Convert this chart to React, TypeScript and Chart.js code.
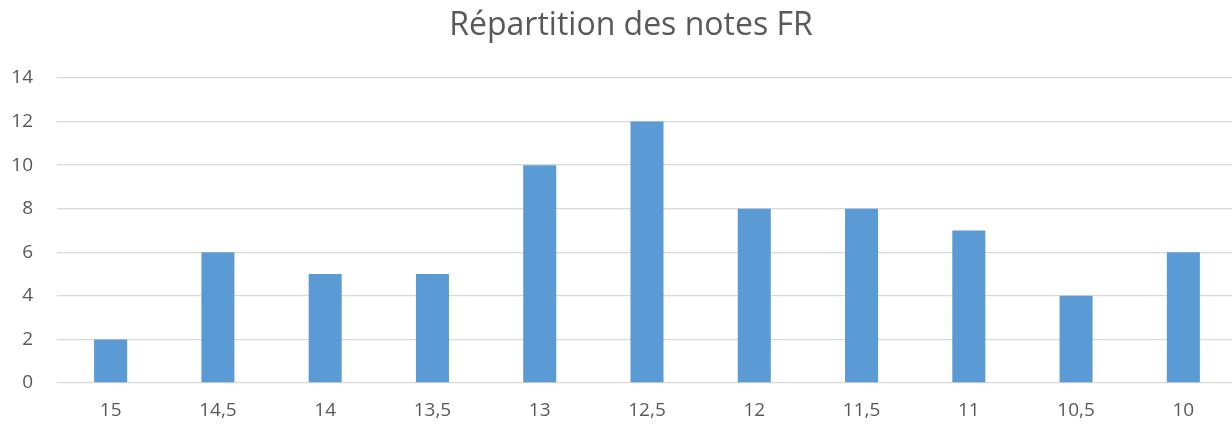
import React, { useEffect, useRef } from "react";
import { Chart, registerables } from "chart.js";

Chart.register(...registerables);

const categories = ["15", "14,5", "14", "13,5", "13", "12,5", "12", "11,5", "11", "10,5", "10"];
const counts = [2, 6, 5, 5, 10, 12, 8, 8, 7, 4, 6];
const yTicks = [0, 2, 4, 6, 8, 10, 12, 14];
const titleText = "Répartition des notes FR";

const FONT = "'Open Sans', sans-serif";
const TEXT = "#595959";

const titlePlugin = {
  id: "offsetTitle",
  afterDraw(chart: any) {
    const ctx = chart.ctx;
    ctx.save();
    ctx.fillStyle = TEXT;
    ctx.font = `normal 32px ${FONT}`;
    ctx.textAlign = "center";
    ctx.textBaseline = "middle";
    ctx.fillText(titleText, 631, 26);
    ctx.restore();
  },
};

export default function App() {
  const ref = useRef<HTMLCanvasElement | null>(null);
  useEffect(() => {
    document.body.style.margin = "0";
    if (!ref.current) return;
    const chart = new Chart(ref.current, {
      type: "bar",
      data: {
        labels: categories,
        datasets: [
          {
            label: "Notes",
            data: counts,
            backgroundColor: "#5B9BD5",
            borderWidth: 0,
            barPercentage: 1,
            categoryPercentage: 0.308,
          },
        ],
      },
      plugins: [titlePlugin],
      options: {
        animation: false,
        responsive: false,
        maintainAspectRatio: false,
        layout: { padding: { left: 0, right: 0, top: 78, bottom: 0 } },
        plugins: {
          legend: { display: false },
          tooltip: { enabled: false },
          title: { display: false },
        },
        scales: {
          x: {
            grid: { display: false, drawTicks: false },
            border: { display: false },
            ticks: {
              color: TEXT,
              font: { family: FONT, size: 19 },
              padding: 16,
              maxRotation: 0,
              autoSkip: false,
            },
            afterFit: (s: any) => {
              s.height = 42;
            },
          },
          y: {
            min: 0,
            max: 14,
            afterBuildTicks: (s: any) => {
              s.ticks = yTicks.map((v) => ({ value: v }));
            },
            grid: { color: "#D9D9D9", lineWidth: 1.3, drawTicks: false },
            border: { display: false },
            ticks: {
              color: TEXT,
              font: { family: FONT, size: 19 },
              padding: 24,
            },
            afterFit: (s: any) => {
              s.width = 57;
            },
          },
        },
      },
    });
    return () => chart.destroy();
  }, []);
  return (
    <div style={{ position: "absolute", left: 0, top: 0, width: 1232, height: 425, overflow: "hidden", background: "#fff" }}>
      <canvas ref={ref} width={1237} height={425} style={{ width: 1237, height: 425, display: "block" }} />
    </div>
  );
}
